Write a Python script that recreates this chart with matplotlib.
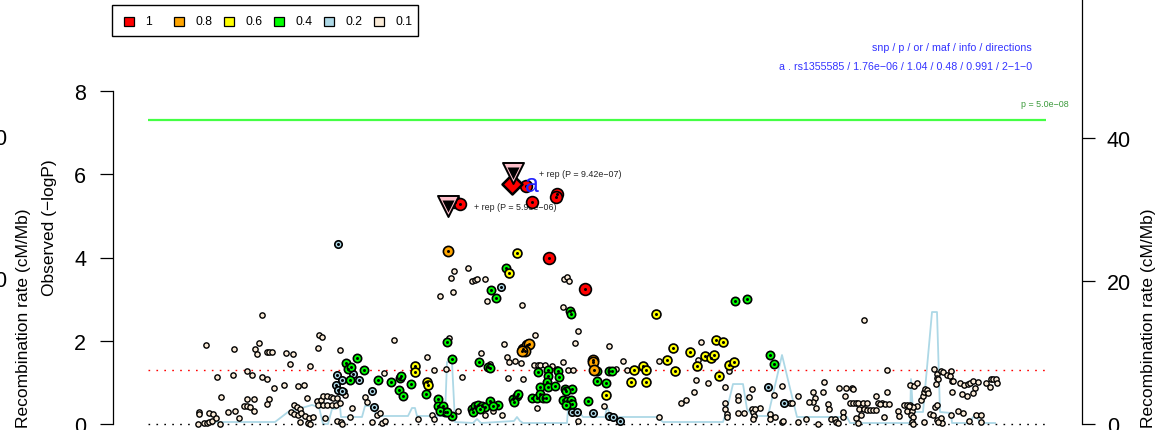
import numpy as np
import matplotlib
matplotlib.use('Agg')
import matplotlib.pyplot as plt
from matplotlib.patches import Rectangle

plt.rcParams['font.family'] = ['Liberation Sans', 'DejaVu Sans']

# ---------------- data (position in kb from region start, -log10 P) ----------------
ld_labels = ['1', '0.8', '0.6', '0.4', '0.2', '0.1']
ld_colors = ['#FF0000', '#FFA500', '#FFFF00', '#00FF00', '#ADD8E6', '#FAEBD7']

snps_ld01 = [
    (149, 2.63), (93, 1.90), (121, 1.80), (142, 1.80), (144, 1.68), (146, 1.95), (154, 1.73), (156, 1.73),
    (159, 1.73), (173, 1.71), (180, 1.68), (206, 2.14), (209, 2.09), (205, 1.83), (227, 1.78), (177, 1.44),
    (197, 1.39), (104, 1.13), (120, 1.18), (134, 1.27), (139, 1.18), (149, 1.13), (154, 1.08), (161, 0.87),
    (171, 0.94), (185, 0.91), (191, 0.94), (108, 0.65), (134, 0.60), (141, 0.60), (156, 0.60), (154, 0.48),
    (131, 0.43), (134, 0.43), (137, 0.41), (141, 0.31), (115, 0.29), (122, 0.31), (126, 0.14), (194, 0.62),
    (181, 0.46), (184, 0.41), (187, 0.36), (178, 0.29), (181, 0.24), (185, 0.22), (188, 0.26), (192, 0.19),
    (196, 0.14), (200, 0.17), (187, 0.05), (195, 0.02), (197, 0.0), (204, 0.55), (208, 0.58), (210, 0.67),
    (214, 0.67), (218, 0.65), (220, 0.62), (224, 0.62), (205, 0.46), (210, 0.46), (214, 0.46), (219, 0.46),
    (223, 0.46), (227, 0.50), (212, 0.14), (224, 0.07), (228, 0.05), (229, 0.0), (232, 0.70), (231, 0.79),
    (239, 0.38), (237, 0.17), (252, 0.65), (254, 0.53), (264, 0.22), (267, 0.26), (259, 0.05), (269, 0.02),
    (272, 0.07), (281, 2.02), (271, 1.23), (314, 1.61), (321, 1.30), (305, 0.12), (319, 0.22), (321, 0.12),
    (86, 0.29), (86, 0.24), (96, 0.26), (100, 0.24), (85, 0.0), (91, 0.02), (94, 0.02), (96, 0.05),
    (99, 0.07), (103, 0.14), (107, 0.0),
    (336, 2.07), (333, 1.32), (349, 1.13), (368, 1.71), (377, 1.44), (345, 0.31), (372, 0.22), (380, 0.31),
    (389, 0.22), (391, 1.92), (394, 1.61), (396, 1.49), (402, 1.51), (408, 1.47), (422, 2.14), (409, 2.86),
    (421, 1.42), (425, 1.42), (427, 1.42), (432, 1.42), (439, 1.39), (444, 1.32), (395, 1.11), (410, 1.08),
    (450, 1.49), (455, 1.30), (460, 1.30), (424, 0.38), (465, 0.07), (450, 2.81), (465, 2.23), (462, 1.95),
    (491, 0.43), (496, 1.88), (503, 1.32), (510, 1.51), (514, 1.30), (546, 1.51), (546, 0.17), (588, 1.97),
    (583, 1.06), (581, 0.77), (573, 0.58), (568, 0.50), (585, 1.54), (595, 0.99), (612, 0.89), (612, 0.50),
    (612, 0.36), (616, 1.27), (614, 0.24), (614, 0.17), (625, 0.67), (625, 0.58), (625, 0.26), (631, 0.26),
    (636, 0.65), (639, 0.84), (639, 0.36), (640, 0.29), (641, 0.19), (640, 0.12), (647, 0.38), (642, 0.36),
    (341, 3.68), (355, 3.75), (338, 3.51), (359, 3.44), (362, 3.46), (364, 3.49), (372, 3.49), (340, 3.17),
    (374, 2.96), (451, 3.49), (454, 3.53), (456, 3.44), (327, 3.08),
    (751, 2.50), (669, 0.91), (661, 0.70), (657, 0.24), (662, 0.17), (669, 0.05), (670, 0.07), (657, 0.12),
    (677, 0.50), (679, 0.50), (685, 0.67), (685, 0.05), (693, 0.12), (700, 0.77), (702, 0.62), (700, 0.53),
    (696, 0.53), (703, 0.38), (705, 0.0), (711, 1.01), (710, 0.77), (715, 0.48), (716, 0.36), (718, 0.12),
    (722, 0.12), (723, 0.05), (725, 0.02), (726, 0.87), (733, 0.87), (739, 0.87), (740, 0.84), (730, 0.29),
    (730, 0.17), (732, 0.67), (737, 0.50), (740, 0.50), (743, 0.50), (745, 0.50), (750, 0.50), (754, 0.50),
    (746, 0.36), (751, 0.36), (754, 0.34), (757, 0.34), (760, 0.34), (763, 0.34), (748, 0.22), (743, 0.14),
    (745, 0.02), (763, 0.67), (765, 0.50), (769, 0.50), (772, 0.48), (776, 0.48), (767, 0.48), (771, 0.17),
    (774, 1.30), (774, 0.77), (785, 0.31), (786, 0.19), (791, 0.46), (794, 0.46), (797, 0.46), (794, 0.31),
    (799, 0.31), (804, 0.43), (800, 0.41), (796, 0.43), (797, 0.94), (801, 0.91), (804, 0.99), (798, 0.22),
    (800, 0.17), (799, 0.05), (800, 0.0), (808, 0.58), (810, 0.67), (811, 0.77), (812, 0.84), (814, 0.82),
    (815, 0.75), (817, 0.24), (820, 0.22), (811, 0.05), (821, 1.32), (824, 1.20), (824, 1.11), (825, 1.08),
    (823, 0.96), (828, 1.27), (830, 1.25), (834, 1.18), (838, 1.27), (837, 1.15), (839, 1.03), (840, 1.03),
    (822, 0.41), (824, 0.46), (824, 0.10), (828, 0.14), (829, 0.02), (825, 0.05), (839, 0.77), (838, 0.22),
    (847, 0.99), (851, 0.94), (855, 0.96), (857, 0.99), (860, 1.03), (865, 1.01), (862, 0.87), (860, 0.75),
    (854, 0.67), (849, 0.72), (845, 0.31), (850, 0.26), (856, 0.07), (863, 0.22), (868, 0.22), (868, 0.05),
    (873, 0.99), (877, 0.89), (878, 1.08), (880, 1.08), (883, 1.08), (884, 0.99),
]

snps_ld02 = [
    (224, 1.18), (229, 1.06), (223, 0.94), (225, 0.82), (229, 0.79), (240, 1.20), (246, 1.06), (259, 0.79),
    (261, 0.41), (225, 4.33), (388, 3.29), (459, 0.29), (464, 0.29), (480, 0.26), (496, 0.19), (500, 0.17),
    (507, 0.07), (655, 0.89), (671, 0.50),
]

snps_ld04 = [
    (233, 1.47), (235, 1.32), (238, 1.37), (237, 1.06), (244, 1.59), (251, 1.30), (265, 1.06), (278, 1.01),
    (287, 1.11), (288, 1.15), (286, 0.82), (290, 0.67), (298, 0.96), (313, 0.72), (325, 0.60), (325, 0.43),
    (330, 0.43), (332, 0.29), (327, 0.31), (334, 1.97), (339, 1.56), (378, 3.22), (383, 3.03), (393, 3.75),
    (457, 2.72), (458, 2.64), (366, 1.49), (375, 1.37), (377, 1.35), (339, 0.19), (334, 0.29),
    (359, 0.36), (362, 0.43), (365, 0.46), (369, 0.43), (372, 0.41), (360, 0.29), (377, 0.55), (385, 0.46),
    (380, 0.43), (367, 0.36), (425, 1.25), (435, 1.30), (435, 1.15), (445, 1.27), (446, 1.13), (434, 1.01),
    (427, 0.89), (435, 0.89), (442, 0.91), (419, 0.62), (424, 0.62), (427, 0.72), (430, 0.62), (433, 0.62),
    (400, 0.60), (404, 0.67), (405, 0.72), (401, 0.53), (452, 0.84), (459, 0.84), (453, 0.79), (450, 0.58),
    (454, 0.55), (458, 0.58), (459, 0.48), (453, 0.46), (484, 1.27), (484, 1.03), (493, 0.99), (475, 0.55),
    (496, 1.27), (499, 1.27), (657, 1.66), (661, 1.44), (622, 2.96), (634, 3.00),
]

snps_ld06 = [
    (302, 1.39), (302, 1.25), (314, 1.01), (315, 0.94), (404, 4.11), (396, 3.63), (493, 0.70), (521, 1.30),
    (530, 1.39), (533, 1.30), (518, 1.01), (533, 1.01), (543, 2.64), (554, 1.54), (560, 1.83), (562, 1.27),
    (577, 1.73), (584, 1.39), (592, 1.63), (598, 1.59), (601, 1.66), (603, 2.02), (610, 1.97), (606, 1.15),
    (616, 1.42), (621, 1.49),
]

snps_ld08 = [
    (335, 4.16), (410, 1.80), (414, 1.90), (416, 1.92), (412, 1.75), (409, 1.75), (480, 1.54), (480, 1.49),
    (481, 1.30),
]

snps_ld1 = [
    (342, 5.34), (347, 5.29), (419, 5.34), (444, 5.53), (443, 5.46), (436, 3.99), (472, 3.25), (413, 5.72),
]

index_pos, index_logp = 399, 5.754        # rs1355585, p = 1.76e-06
rep_pos = [400, 335]
rep_logp = [-np.log10(9.42e-07), -np.log10(5.93e-06)]
rep_text = ['+ rep (P = 9.42e\u221207)', '+ rep (P = 5.93e\u221206)']

recomb_pos = [90, 162, 175, 199, 202, 206, 210, 215, 219, 223, 225, 226, 228, 249, 252, 257, 265, 295, 299,
              302, 304, 332, 334, 339, 342, 360, 364, 368, 401, 404, 407, 410, 454, 455, 464, 470, 492, 494,
              497, 500, 544, 550, 610, 614, 620, 630, 634, 640, 655, 669, 684, 734, 737, 797, 798, 800, 810,
              819, 824, 827, 838, 839, 857, 860, 864, 868, 882]
recomb_rate = [0.28, 0.28, 1.68, 2.66, 2.52, 2.38, 0.0, 0.0, 2.10, 2.10, 3.9, 3.9, 0.98, 0.98, 2.52, 2.52,
               1.12, 1.12, 2.24, 2.24, 1.12, 1.12, 8.67, 8.67, 0.28, 0.14, 0.70, 0.14, 0.42, 0.98, 0.42, 0.14,
               0.14, 2.10, 2.10, 0.98, 0.98, 2.38, 1.40, 0.98, 0.98, 0.28, 0.28, 2.10, 5.59, 5.59, 2.10, 1.12,
               1.12, 9.65, 0.98, 0.98, 0.14, 0.14, 6.29, 1.68, 1.68, 15.66, 15.66, 1.68, 1.54, 0.14, 0.14, 0.98,
               0.84, 0.14, 0.14]

gw_p = 5e-8
nominal_p = 0.05
line_start, line_end = 35, 933

# ---------------- figure ----------------
W, H = 1158, 431
fig = plt.figure(figsize=(W / 100, H / 100), dpi=100)

AX_L, AX_R = 113, 1082
Y0 = 425
PX_LOGP = 41.625
PX_RATE = 7.15

ax = fig.add_axes([AX_L / W, 0, (AX_R - AX_L) / W, 1])
ax.set_xlim(0, 969)
ax.set_ylim(-(H - Y0) / PX_LOGP, Y0 / PX_LOGP)
ax2 = ax.twinx()
ax2.set_ylim(-(H - Y0) / PX_RATE, Y0 / PX_RATE)
ax.set_zorder(ax2.get_zorder() + 1)
ax.patch.set_visible(False)

# recombination rate
ax2.plot(recomb_pos, recomb_rate, color='#ADD8E6', lw=1.3, zorder=1)

# reference lines
ax.hlines(-np.log10(gw_p), line_start, line_end, color='#44ff44', lw=1.6, zorder=2)
ax.hlines(-np.log10(nominal_p), line_start, line_end, color='red', lw=1.0,
          linestyles=(0, (1.2, 4.5)), zorder=2)
ax.hlines(0, line_start, line_end, color='black', lw=1.0, linestyles=(0, (1.2, 4.5)), zorder=2)

# rep labels (below points)
for p, l, t in zip(rep_pos, rep_logp, rep_text):
    ax.annotate(t, (p, l), xytext=(19, 0), textcoords='offset points', ha='left', va='center',
                fontsize=6.4, color='#222222', zorder=3)


def draw(points, color, dpx, z, dot=True, lw=1.2):
    xs = [p[0] for p in points]
    ys = [p[1] for p in points]
    ax.scatter(xs, ys, s=(dpx * 0.72) ** 2, c=color, edgecolors='black', linewidths=lw, zorder=z)
    if dot:
        ax.scatter(xs, ys, s=(3.0 * 0.72) ** 2, c='black', linewidths=0, zorder=z + 0.05)


draw(snps_ld01, ld_colors[5], 5.3, 4, dot=False, lw=1.0)
draw(snps_ld02, ld_colors[4], 7.4, 5)
draw(snps_ld04, ld_colors[3], 8.3, 6)
draw(snps_ld06, ld_colors[2], 8.9, 7)
draw(snps_ld08, ld_colors[1], 10.2, 8)
draw(snps_ld1, ld_colors[0], 11.8, 9)

# index SNP
ax.scatter([index_pos], [index_logp], marker='D', s=(10.2) ** 2, c='red', edgecolors='black',
           linewidths=1.8, zorder=10)
ax.annotate('a', (index_pos, index_logp), xytext=(14, 0), textcoords='offset points',
            ha='center', va='center', fontsize=18, color='#2222ff', zorder=12)

# replication triangles
ax.scatter(rep_pos, rep_logp, marker='v', s=(21 * 0.72) ** 2, c='pink', edgecolors='black',
           linewidths=1.4, zorder=11)
ax.scatter(rep_pos, rep_logp, marker='v', s=(12 * 0.72) ** 2, c='black', linewidths=0, zorder=11.1)

# axes styling
for s in ['top', 'bottom', 'right']:
    ax.spines[s].set_visible(False)
for s in ['top', 'bottom', 'left']:
    ax2.spines[s].set_visible(False)
ax.spines['left'].set_bounds(0, 8)
ax.spines['left'].set_linewidth(0.9)
ax2.spines['right'].set_bounds(0, Y0 / PX_RATE)
ax2.spines['right'].set_linewidth(0.9)

ax.set_xticks([])
ax.set_yticks([0, 2, 4, 6, 8])
ax.tick_params(axis='y', direction='out', length=9.4, width=0.9, labelsize=15.5, pad=10)
ax2.set_yticks([0, 20, 40])
ax2.tick_params(axis='y', direction='out', length=9.4, width=0.9, labelsize=15.5, pad=8.5)

# overlay in pixel coordinates for legend and marginal text
ov = fig.add_axes([0, 0, 1, 1])
ov.set_xlim(0, W)
ov.set_ylim(H, 0)
ov.axis('off')
ov.set_zorder(ax.get_zorder() + 1)

ov.add_patch(Rectangle((112, 6), 306, 31, fill=False, ec='black', lw=1.0))
for i, (lab, col) in enumerate(zip(ld_labels, ld_colors)):
    cx = 129 + 50 * i
    ov.add_patch(Rectangle((cx - 5, 17.5), 10, 9, fc=col, ec='black', lw=0.9))
    ov.text(cx + 16, 22, lab, ha='left', va='center', fontsize=8.8)

ov.text(1032, 48, 'snp / p / or / maf / info / directions', ha='right', va='center',
        color='#3333ff', fontsize=7.7)
ov.text(1032, 67, 'a . rs1355585 / 1.76e\u221206 / 1.04 / 0.48 / 0.991 / 2\u22121\u22120', ha='right',
        va='center', color='#3333ff', fontsize=7.7)
ov.text(1069, 105, 'p = 5.0e\u221208', ha='right', va='center', color='#3a9a3a', fontsize=6.4)

ov.text(50, 228, 'Observed (\u2212logP)', rotation=90, ha='center', va='center', fontsize=12.5)
ov.text(24, 318, 'Recombination rate (cM/Mb)', rotation=90, ha='center', va='center', fontsize=12.5)
ov.text(1149, 318, 'Recombination rate (cM/Mb)', rotation=90, ha='center', va='center', fontsize=12.5)
ov.text(8, 140, '40', ha='right', va='center', fontsize=15.5)
ov.text(8, 282, '20', ha='right', va='center', fontsize=15.5)

fig.savefig('out.png', dpi=100)
